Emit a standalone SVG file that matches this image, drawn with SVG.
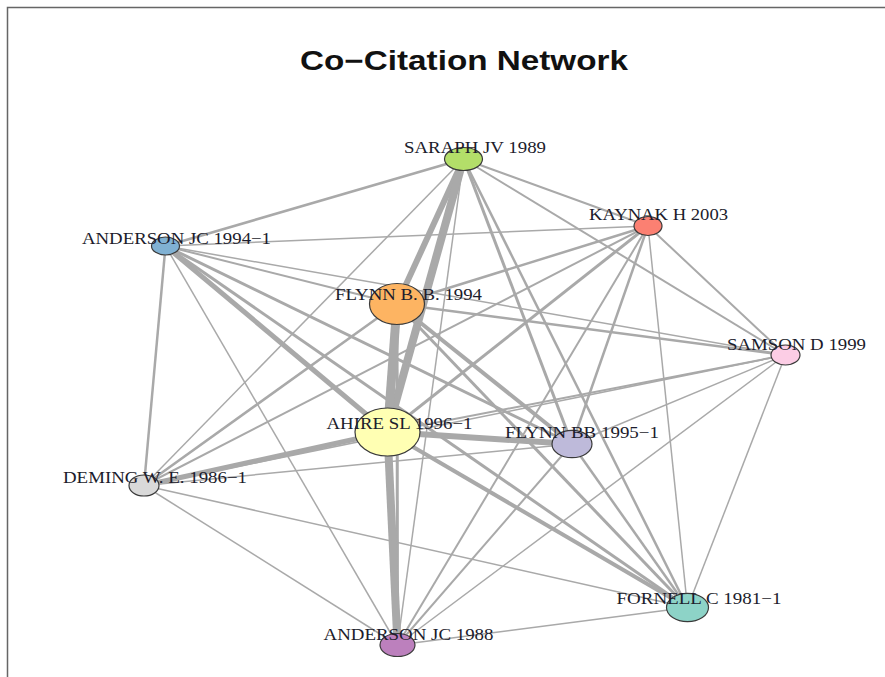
<svg xmlns="http://www.w3.org/2000/svg" width="885" height="677" viewBox="0 0 885 677">
<style>
.edges line{stroke:#a9a9a9;stroke-linecap:butt;fill:none}
.node ellipse{stroke:#3a3a3a;stroke-width:1.2}
.lbl{font-family:"Liberation Serif","Times New Roman",serif;font-size:17.5px;fill:#1c1c2c}
.title{font-family:"Liberation Sans",Arial,sans-serif;font-weight:bold;font-size:27px;fill:#111}
</style>
<rect x="0" y="0" width="885" height="677" fill="#fff"/>
<path d="M7.5 677 V7.5 H885" fill="none" stroke="#666" stroke-width="1.5"/>
<text class="title" x="300" y="69.5" textLength="328" lengthAdjust="spacingAndGlyphs">Co−Citation Network</text>
<g id="connectors" class="edges">
<line x1="463.5" y1="159" x2="648" y2="226" stroke-width="2"/>
<line x1="463.5" y1="159" x2="165.5" y2="246" stroke-width="2.5"/>
<line x1="463.5" y1="159" x2="397" y2="304" stroke-width="6"/>
<line x1="463.5" y1="159" x2="785.5" y2="355" stroke-width="2"/>
<line x1="463.5" y1="159" x2="387.5" y2="432" stroke-width="8"/>
<line x1="463.5" y1="159" x2="572" y2="444" stroke-width="3"/>
<line x1="463.5" y1="159" x2="144" y2="485.5" stroke-width="1.5"/>
<line x1="463.5" y1="159" x2="687.5" y2="607.5" stroke-width="2.5"/>
<line x1="463.5" y1="159" x2="397.5" y2="645" stroke-width="1.5"/>
<line x1="648" y1="226" x2="165.5" y2="246" stroke-width="1.5"/>
<line x1="648" y1="226" x2="397" y2="304" stroke-width="2.5"/>
<line x1="648" y1="226" x2="785.5" y2="355" stroke-width="2"/>
<line x1="648" y1="226" x2="387.5" y2="432" stroke-width="3"/>
<line x1="648" y1="226" x2="572" y2="444" stroke-width="2.5"/>
<line x1="648" y1="226" x2="144" y2="485.5" stroke-width="2"/>
<line x1="648" y1="226" x2="687.5" y2="607.5" stroke-width="1.5"/>
<line x1="648" y1="226" x2="397.5" y2="645" stroke-width="2"/>
<line x1="165.5" y1="246" x2="397" y2="304" stroke-width="2"/>
<line x1="165.5" y1="246" x2="785.5" y2="355" stroke-width="1.5"/>
<line x1="165.5" y1="246" x2="387.5" y2="432" stroke-width="5"/>
<line x1="165.5" y1="246" x2="572" y2="444" stroke-width="3"/>
<line x1="165.5" y1="246" x2="144" y2="485.5" stroke-width="2.5"/>
<line x1="165.5" y1="246" x2="687.5" y2="607.5" stroke-width="3"/>
<line x1="165.5" y1="246" x2="397.5" y2="645" stroke-width="1.5"/>
<line x1="397" y1="304" x2="785.5" y2="355" stroke-width="2.5"/>
<line x1="397" y1="304" x2="387.5" y2="432" stroke-width="9"/>
<line x1="397" y1="304" x2="572" y2="444" stroke-width="4"/>
<line x1="397" y1="304" x2="144" y2="485.5" stroke-width="2.5"/>
<line x1="397" y1="304" x2="687.5" y2="607.5" stroke-width="3"/>
<line x1="397" y1="304" x2="397.5" y2="645" stroke-width="3"/>
<line x1="785.5" y1="355" x2="387.5" y2="432" stroke-width="2"/>
<line x1="785.5" y1="355" x2="572" y2="444" stroke-width="1.5"/>
<line x1="785.5" y1="355" x2="144" y2="485.5" stroke-width="1.5"/>
<line x1="785.5" y1="355" x2="687.5" y2="607.5" stroke-width="1.5"/>
<line x1="785.5" y1="355" x2="397.5" y2="645" stroke-width="1.5"/>
<line x1="387.5" y1="432" x2="572" y2="444" stroke-width="6"/>
<line x1="387.5" y1="432" x2="144" y2="485.5" stroke-width="5"/>
<line x1="387.5" y1="432" x2="687.5" y2="607.5" stroke-width="4"/>
<line x1="387.5" y1="432" x2="397.5" y2="645" stroke-width="8"/>
<line x1="572" y1="444" x2="144" y2="485.5" stroke-width="1.5"/>
<line x1="572" y1="444" x2="687.5" y2="607.5" stroke-width="2.5"/>
<line x1="572" y1="444" x2="397.5" y2="645" stroke-width="2"/>
<line x1="144" y1="485.5" x2="687.5" y2="607.5" stroke-width="1.5"/>
<line x1="144" y1="485.5" x2="397.5" y2="645" stroke-width="1.5"/>
<line x1="687.5" y1="607.5" x2="397.5" y2="645" stroke-width="1.5"/>
</g>
<g id="n-saraph" class="node"><ellipse cx="463.5" cy="159" rx="19" ry="11.5" fill="#B3DE69"/></g>
<g id="n-kaynak" class="node"><ellipse cx="648" cy="226" rx="14" ry="9.5" fill="#FB8072"/></g>
<g id="n-anderson94" class="node"><ellipse cx="165.5" cy="246" rx="14" ry="9" fill="#80B1D3"/></g>
<g id="n-flynn94" class="node"><ellipse cx="397" cy="304" rx="27.5" ry="20.5" fill="#FDB462"/></g>
<g id="n-samson" class="node"><ellipse cx="785.5" cy="355" rx="14.5" ry="10" fill="#FCCDE5"/></g>
<g id="n-ahire" class="node"><ellipse cx="387.5" cy="432" rx="32.5" ry="24" fill="#FFFFB3"/></g>
<g id="n-flynn95" class="node"><ellipse cx="572" cy="444" rx="20" ry="13.7" fill="#BEBADA"/></g>
<g id="n-deming" class="node"><ellipse cx="144" cy="485.5" rx="15" ry="10.5" fill="#D9D9D9"/></g>
<g id="n-fornell" class="node"><ellipse cx="687.5" cy="607.5" rx="21" ry="14.2" fill="#8DD3C7"/></g>
<g id="n-anderson88" class="node"><ellipse cx="397.5" cy="645" rx="17.5" ry="11.5" fill="#BC80BD"/></g>
<g id="labels">
<text class="lbl" x="404" y="153" textLength="142" lengthAdjust="spacingAndGlyphs">SARAPH JV 1989</text>
<text class="lbl" x="589" y="220" textLength="139" lengthAdjust="spacingAndGlyphs">KAYNAK H 2003</text>
<text class="lbl" x="82" y="243.5" textLength="189" lengthAdjust="spacingAndGlyphs">ANDERSON JC 1994−1</text>
<text class="lbl" x="335" y="300" textLength="147" lengthAdjust="spacingAndGlyphs">FLYNN B. B. 1994</text>
<text class="lbl" x="727" y="349.5" textLength="139" lengthAdjust="spacingAndGlyphs">SAMSON D 1999</text>
<text class="lbl" x="326.5" y="428.5" textLength="146" lengthAdjust="spacingAndGlyphs">AHIRE SL 1996−1</text>
<text class="lbl" x="505" y="438" textLength="154" lengthAdjust="spacingAndGlyphs">FLYNN BB 1995−1</text>
<text class="lbl" x="63" y="482.5" textLength="184" lengthAdjust="spacingAndGlyphs">DEMING W. E. 1986−1</text>
<text class="lbl" x="616.5" y="604" textLength="165" lengthAdjust="spacingAndGlyphs">FORNELL C 1981−1</text>
<text class="lbl" x="323.5" y="640" textLength="170" lengthAdjust="spacingAndGlyphs">ANDERSON JC 1988</text>
</g>
</svg>
